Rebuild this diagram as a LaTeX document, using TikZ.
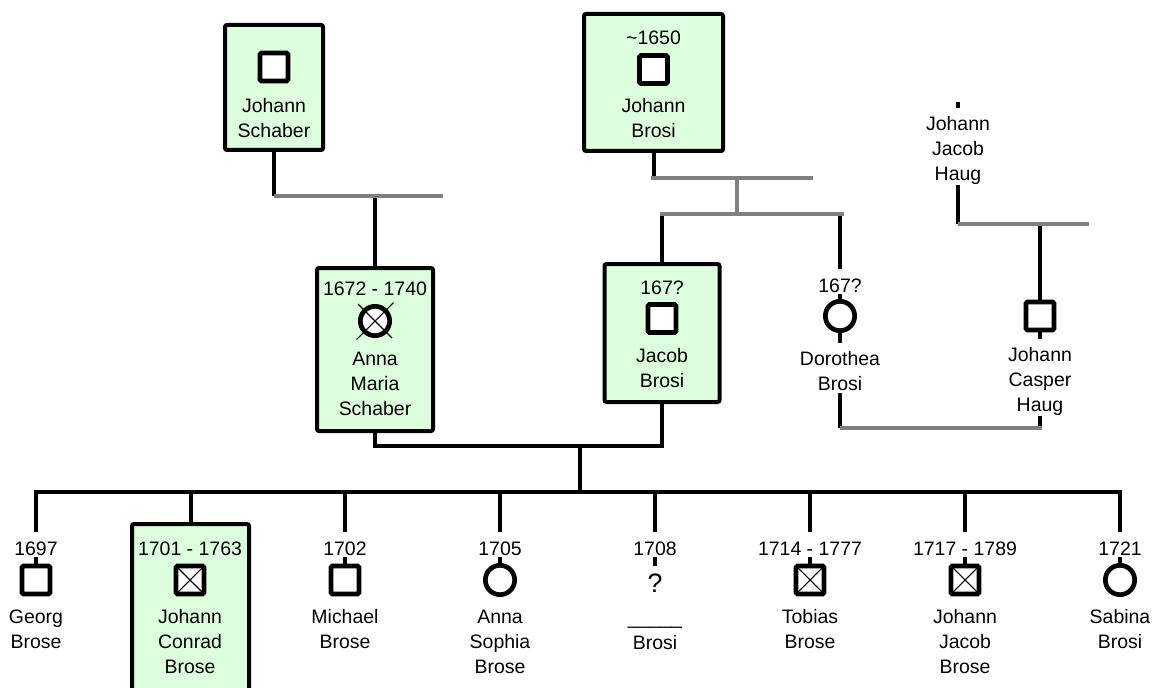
\documentclass[tikz,border=0pt]{standalone}
\usepackage{fontspec}
\setmainfont{Liberation Sans}
\usetikzlibrary{backgrounds}
\definecolor{boxgreen}{RGB}{221,255,221}
\definecolor{bargray}{RGB}{128,128,128}
\newcommand{\nstrut}{\rule{0pt}{17pt}}
\newcommand{\bstrut}{\rule[-1.5pt]{0pt}{1.5pt}}
\tikzset{
  kinbox/.style={draw, line width=3pt, fill=boxgreen, rounded corners=1.5pt, inner sep=0},
  male/.style={draw, line width=3.5pt, fill=white, minimum size=21pt, inner sep=0, rounded corners=1pt},
  female/.style={circle, draw, line width=3.5pt, fill=white, minimum size=22pt, inner sep=0},
  deceased/.style={path picture={\draw[line width=0.8pt]
    (path picture bounding box.south west) -- (path picture bounding box.north east)
    (path picture bounding box.north west) -- (path picture bounding box.south east);}},
  txt/.style={align=center, inner sep=0, font=\fontsize{14.6}{18.8}\selectfont},
  wtxt/.style={txt, fill=white},
  wyear/.style={wtxt, anchor=base, text height=17pt, text depth=1.5pt},
  wname/.style={wtxt, anchor=north},
  descent/.style={line width=3pt},
  union/.style={line width=3pt, bargray}
}
\begin{document}
\begin{tikzpicture}[x=0.75pt, y=-0.75pt]
\clip (0,0) rectangle (1153,688);

\node[kinbox, minimum width=73.5pt, minimum height=93.75pt] (schaberBox) at (274,87.5) {};
\node[kinbox, minimum width=104.25pt, minimum height=102.75pt] (brosiBox) at (653.5,82.5) {};
\node[kinbox, minimum width=87pt, minimum height=122.25pt] (annaBox) at (375,349.5) {};
\node[kinbox, minimum width=86.25pt, minimum height=103.5pt] (jacobBox) at (662,333) {};
\node[kinbox, minimum width=87.75pt, minimum height=132pt] (conradBox) at (190.5,612) {};

% grandparents
\node[male] (schaberSym) at (274,67) {};
\node[txt, anchor=north] (schaberName) at (274,98) {Johann\\Schaber};

\node[txt] (brosiYear) at (653.5,38) {\textasciitilde 1650};
\node[male] (brosiSym) at (653.5,69.5) {};
\node[txt, anchor=north] (brosiName) at (653.5,98) {Johann\\Brosi};

\node[wname] (jjhName) at (958,107.5) {\nstrut Johann\\Jacob\\Haug\bstrut};
\coordinate (jjhTop) at (958,102);

% parents
\node[txt] (annaYear) at (375,289) {1672 - 1740};
\node[female] (annaSym) at (375,321) {};
\draw[line width=0.8pt, shorten <=-1.5pt, shorten >=-1.5pt]
  (annaSym.west |- annaSym.north) -- (annaSym.east |- annaSym.south)
  (annaSym.west |- annaSym.south) -- (annaSym.east |- annaSym.north);
\node[txt, anchor=north] (annaName) at (375,352) {Anna\\Maria\\Schaber};

\node[txt] (jacobYear) at (662,288) {167?};
\node[male] (jacobSym) at (662,318.5) {};
\node[txt, anchor=north] (jacobName) at (662,348) {Jacob\\Brosi};

\node[wyear] (dorYear) at (840,292) {167?};
\node[female] (dorSym) at (840,316) {};
\node[wname] (dorName) at (840,342.5) {\nstrut Dorothea\\Brosi\bstrut};

\node[male] (casSym) at (1040,316) {};
\node[wname] (casName) at (1040,338.5) {\nstrut Johann\\Casper\\Haug\bstrut};

% children
\node[wyear] (georgYear) at (36,555) {1697};
\node[male] (georgSym) at (36,580) {};
\node[wname] (georgName) at (36,600.5) {\nstrut Georg\\Brose\bstrut};

\node[txt] (conradYear) at (190,548.5) {1701 - 1763};
\node[male, deceased] (conradSym) at (190,580) {};
\node[txt, anchor=north] (conradName) at (190,609) {Johann\\Conrad\\Brose};

\node[wyear] (michaelYear) at (345,555) {1702};
\node[male] (michaelSym) at (345,580) {};
\node[wname] (michaelName) at (345,600.5) {\nstrut Michael\\Brose\bstrut};

\node[wyear] (sophiaYear) at (500,555) {1705};
\node[female] (sophiaSym) at (500,580) {};
\node[wname] (sophiaName) at (500,600.5) {\nstrut Anna\\Sophia\\Brose\bstrut};

\node[wyear] (unkYear) at (655,555) {1708};
\node[wtxt, anchor=base, font=\fontsize{20}{22}\selectfont, text height=19.5pt, text depth=0pt]
  (unkSym) at (655,592) {?};
\node[wname] (unkName) at (655,601.5) {\nstrut\_\_\_\_\_\\Brosi\bstrut};

\node[wyear] (tobiasYear) at (810,555) {1714 - 1777};
\node[male, deceased] (tobiasSym) at (810,580) {};
\node[wname] (tobiasName) at (810,600.5) {\nstrut Tobias\\Brose\bstrut};

\node[wyear] (jjbYear) at (965,555) {1717 - 1789};
\node[male, deceased] (jjbSym) at (965,580) {};
\node[wname] (jjbName) at (965,600.5) {\nstrut Johann\\Jacob\\Brose\bstrut};

\node[wyear] (sabinaYear) at (1120,555) {1721};
\node[female] (sabinaSym) at (1120,580) {};
\node[wname] (sabinaName) at (1120,600.5) {\nstrut Sabina\\Brosi\bstrut};

\coordinate (schaberL) at (274,196);
\coordinate (schaberR) at (443,196);
\coordinate (brosiL) at (651,178);
\coordinate (brosiR) at (813,178);
\coordinate (sibM) at (737,214);
\coordinate (sibL) at (660,214);
\coordinate (sibR) at (844,214);
\coordinate (haugL) at (958,224);
\coordinate (haugR) at (1089,224);
\coordinate (dorCasL) at (840,428);
\coordinate (dorCasR) at (1042,428);
\coordinate (parM) at (580,446);
\coordinate (kidsM) at (580,492);
\coordinate (kidsL) at (34,492);
\coordinate (kidsR) at (1122,492);

\begin{scope}[on background layer]
\draw[descent] (schaberBox.south) -- (schaberBox.south |- schaberL);
\draw[descent] (annaBox.north) -- (annaBox.north |- schaberL);
\draw[union] (schaberL) -- (schaberR);

\draw[descent] (brosiBox.south) -- (brosiBox.south |- brosiL);
\draw[descent] (jacobBox.north) -- (jacobBox.north |- sibL);
\draw[descent] (dorSym) -- (dorSym |- sibL);
\draw[union] (brosiL) -- (brosiR);
\draw[union] (sibM) -- (sibM |- brosiL);
\draw[union] (sibL) -- (sibR);

\draw[descent] (jjhTop) -- (haugL);
\draw[descent] (casSym) -- (casSym |- haugL);
\draw[union] (haugL) -- (haugR);

\draw[descent] (dorSym) -- (dorSym |- dorCasL);
\draw[descent] (casSym) -- (casSym |- dorCasL);
\draw[union] (dorCasL) -- (dorCasR);

\draw[descent] (annaBox.south) -- (annaBox.south |- parM) -- (jacobBox.south |- parM) -- (jacobBox.south);
\draw[descent] (parM) -- (kidsM);
\draw[descent] (kidsL) -- (kidsR);

\draw[descent] (georgSym) -- (georgSym |- kidsL);
\draw[descent] (conradBox.north) -- (conradBox.north |- kidsL);
\draw[descent] (michaelSym) -- (michaelSym |- kidsL);
\draw[descent] (sophiaSym) -- (sophiaSym |- kidsL);
\draw[descent] (unkSym.north) -- (unkSym.north |- kidsL);
\draw[descent] (tobiasSym) -- (tobiasSym |- kidsL);
\draw[descent] (jjbSym) -- (jjbSym |- kidsL);
\draw[descent] (sabinaSym) -- (sabinaSym |- kidsL);
\end{scope}
\end{tikzpicture}
\end{document}
